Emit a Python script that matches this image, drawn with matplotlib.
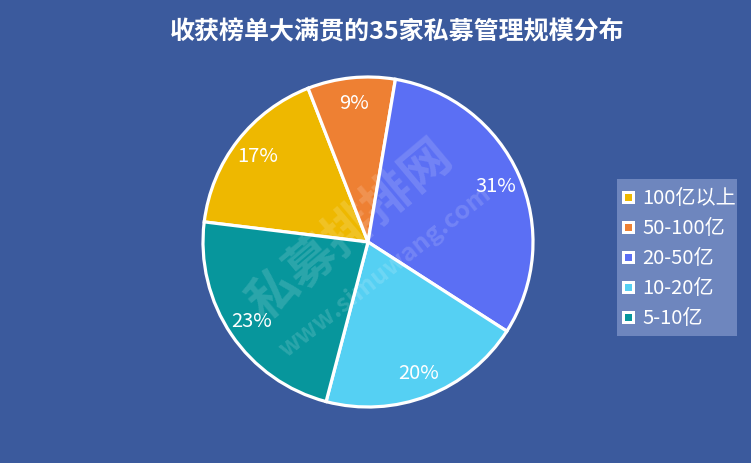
import matplotlib.pyplot as plt
from matplotlib.patches import Rectangle

plt.rcParams['font.family'] = ['Noto Sans CJK SC', 'DejaVu Sans']

# data
title = '收获榜单大满贯的35家私募管理规模分布'
labels = ['100亿以上', '50-100亿', '20-50亿', '10-20亿', '5-10亿']
counts = [6, 3, 11, 7, 8]
pcts = ['17%', '9%', '31%', '20%', '23%']
slice_colors = ['#EEB800', '#EE8033', '#5B6FF4', '#55D0F3', '#07969C']

bg = '#3B5A9D'
W, H = 751, 464


def fx(x):
    return x / W


def fy(y):
    # y measured from top in pixels
    return 1 - y / H


fig = plt.figure(figsize=(W / 100, H / 100), dpi=100, facecolor=bg)

# pie axes, placed in pixels
cx, cy, r = 368, 243, 165
lim = 1.03
ax = fig.add_axes([fx(cx - r * lim), fy(cy + r * lim), 2 * r * lim / W, 2 * r * lim / H])
ax.set_facecolor(bg)
wedges, texts = ax.pie(counts, colors=slice_colors, labels=pcts, startangle=173,
                       counterclock=False, labeldistance=0.85,
                       wedgeprops=dict(edgecolor='white', linewidth=2.3))
for t in texts:
    t.set_color('white')
    t.set_fontsize(14.5)
    t.set_ha('center')
    t.set_va('center')
ax.set_xlim(-lim, lim)
ax.set_ylim(-lim, lim)
ax.set_aspect('equal')
ax.axis('off')

# watermark
fig.text(fx(351), fy(231), '私募排排网', rotation=40, fontsize=36, fontweight='bold',
         color='white', alpha=0.15, ha='center', va='center')
fig.text(fx(385), fy(272), 'www.simuwang.com', rotation=38, fontsize=18, fontweight='bold',
         color='white', alpha=0.15, ha='center', va='center')

# title
fig.text(fx(397), fy(32), title, fontsize=18, fontweight='bold', color='white',
         ha='center', va='center')

# legend (drawn by hand)
fig.add_artist(Rectangle((fx(617), fy(337)), (737 - 617) / W, (337 - 180) / H,
                         transform=fig.transFigure, facecolor='#6E86BE', edgecolor='none'))
row_y = 198.3
for lab, col in zip(labels, slice_colors):
    fig.add_artist(Rectangle((fx(622), fy(row_y + 6.5)), 13 / W, 13 / H,
                             transform=fig.transFigure, facecolor='white', edgecolor='none'))
    fig.add_artist(Rectangle((fx(625), fy(row_y + 3.5)), 7 / W, 7 / H,
                             transform=fig.transFigure, facecolor=col, edgecolor='none'))
    fig.text(fx(642), fy(row_y), lab, fontsize=14.5, color='white', ha='left', va='center')
    row_y += 30

fig.savefig('out.png', dpi=100, facecolor=bg)
